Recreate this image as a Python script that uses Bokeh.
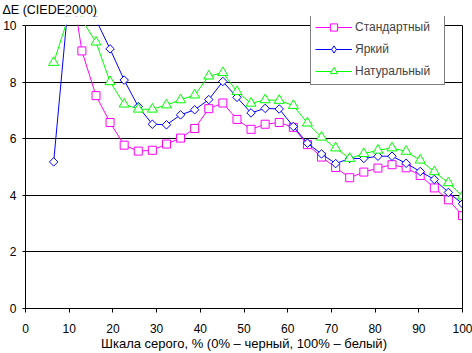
import math
from bokeh.plotting import figure
from bokeh.models import (Range1d, FixedTicker, Legend, LegendItem, LinearAxis,
                          BoxAnnotation, Title)
from bokeh.embed import file_html
from bokeh.resources import INLINE

# Gray level, % (0% - black, 100% - white)
gray_pct = [6.45, 9.68, 12.90, 16.13, 19.35, 22.58, 25.81, 29.03, 32.26, 35.48,
            38.71, 41.94, 45.16, 48.39, 51.61, 54.84, 58.06, 61.29, 64.52, 67.74,
            70.97, 74.19, 77.42, 80.65, 83.87, 87.10, 90.32, 93.55, 96.77, 100.0]

# Delta E (CIEDE2000) per mode
standard = [13.0, 12.3, 9.10, 7.52, 6.57, 5.77, 5.56, 5.59, 5.81, 6.02,
            6.36, 7.06, 7.26, 6.68, 6.33, 6.51, 6.57, 6.40, 5.79, 5.35,
            4.98, 4.62, 4.82, 4.96, 5.08, 4.97, 4.70, 4.26, 3.84, 3.28]
bright = [5.18, 10.6, 12.0, 10.2, 9.17, 8.07, 7.13, 6.51, 6.49, 6.84,
          7.02, 7.38, 8.02, 7.46, 6.91, 7.07, 7.05, 6.43, 5.84, 5.46,
          5.12, 5.30, 5.30, 5.38, 5.38, 5.13, 4.84, 4.56, 4.10, 3.70]
natural = [8.69, 10.24, 10.2, 9.41, 8.01, 7.22, 7.04, 7.04, 7.19, 7.37,
           7.54, 8.21, 8.33, 7.66, 7.25, 7.37, 7.35, 7.17, 6.55, 6.05,
           5.67, 5.30, 5.47, 5.59, 5.67, 5.55, 5.24, 4.83, 4.44, 3.97]

series_names = ["Стандартный", "Яркий", "Натуральный"]
x_ticks = [0, 10, 20, 30, 40, 50, 60, 70, 80, 90, 100]
y_ticks = [0, 2, 4, 6, 8, 10]
Y_MAX = 10

FONT = "Liberation Sans"

# frame: left 23, right 462, top 16 (room for legend), bottom 310; 28.5 px per unit
y_top = Y_MAX + 9 / 28.5

p = figure(width=472, height=353, output_backend="svg", toolbar_location=None,
           x_range=Range1d(0, 100), y_range=Range1d(0, y_top),
           min_border_left=23, min_border_right=10, min_border_top=16,
           min_border_bottom=43)
p.background_fill_color = "white"
p.border_fill_color = "white"
p.outline_line_color = None

p.title = Title(text="ΔE (CIEDE2000)", align="left", offset=-23, standoff=0,
                text_font=FONT, text_font_size="12.5px", text_font_style="normal",
                text_color="black")

p.xaxis.ticker = FixedTicker(ticks=x_ticks)
p.yaxis.ticker = FixedTicker(ticks=y_ticks)
p.yaxis.bounds = (0, Y_MAX)
for ax in (p.xaxis, p.yaxis):
    ax.axis_line_color = "black"
    ax.major_tick_line_color = "black"
    ax.minor_tick_line_color = None
    ax.major_tick_in = 0
    ax.major_label_text_font = FONT
    ax.major_label_text_font_size = "12px"
    ax.major_label_text_color = "black"
p.xaxis.major_tick_out = 4
p.yaxis.major_tick_out = 3
p.xaxis.major_label_standoff = 11
p.yaxis.major_label_standoff = 6
p.xaxis.axis_label = "Шкала серого, % (0% – черный, 100% – белый)"
p.xaxis.axis_label_text_font = FONT
p.xaxis.axis_label_text_font_size = "13px"
p.xaxis.axis_label_text_font_style = "normal"
p.xaxis.axis_label_text_color = "black"
p.xaxis.axis_label_standoff = 0

# right border of the plot area
right_axis = LinearAxis(ticker=FixedTicker(ticks=[]), bounds=(0, Y_MAX),
                        axis_line_color="black", major_tick_out=0, major_tick_in=0,
                        minor_tick_out=0, minor_tick_in=0, major_label_standoff=0,
                        major_label_text_font_size="0px")
p.add_layout(right_axis, "right")

p.xgrid.visible = False
p.ygrid.ticker = FixedTicker(ticks=y_ticks)
p.ygrid.grid_line_color = "black"
p.ygrid.grid_line_width = 1

items = []
specs = [
    (standard, "#FF00FF", dict(marker="square", size=8, angle=0), None),
    (bright, "#0000FF", dict(marker="square", size=6, angle=math.pi / 4),
     dict(marker="diamond", size=11)),
    (natural, "#00FF00", dict(marker="triangle", size=10, angle=0), None),
]
for name, (vals, col, mk, legend_mk) in zip(series_names, specs):
    ln = p.line(gray_pct, vals, line_color=col, line_width=1)
    sc = p.scatter(gray_pct, vals, line_color=col, fill_color="white",
                   line_width=1, **mk)
    if legend_mk is not None:
        # legend sample only (legend glyphs ignore marker rotation); not drawn in plot
        proxy = p.scatter(gray_pct, vals, line_color=col, fill_color="white",
                          line_width=1, visible=False, **legend_mk)
        items.append(LegendItem(label=name, renderers=[ln, proxy]))
    else:
        items.append(LegendItem(label=name, renderers=[ln, sc]))

# hide everything above the 10 line (plot area ends there)
mask = BoxAnnotation(bottom=Y_MAX + 0.02, fill_color="white", fill_alpha=1.0,
                     line_color=None, line_alpha=0)
p.add_layout(mask)

legend = Legend(items=items, location=(285, 223), margin=0, padding=4,
                spacing=4, glyph_width=37, glyph_height=18, label_height=18,
                label_width=85, label_standoff=3,
                label_text_font=FONT, label_text_font_size="12px",
                border_line_color="black", border_line_width=1,
                background_fill_color="white", background_fill_alpha=1.0)
p.add_layout(legend)

open("out.html", "w").write(file_html(p, INLINE))
